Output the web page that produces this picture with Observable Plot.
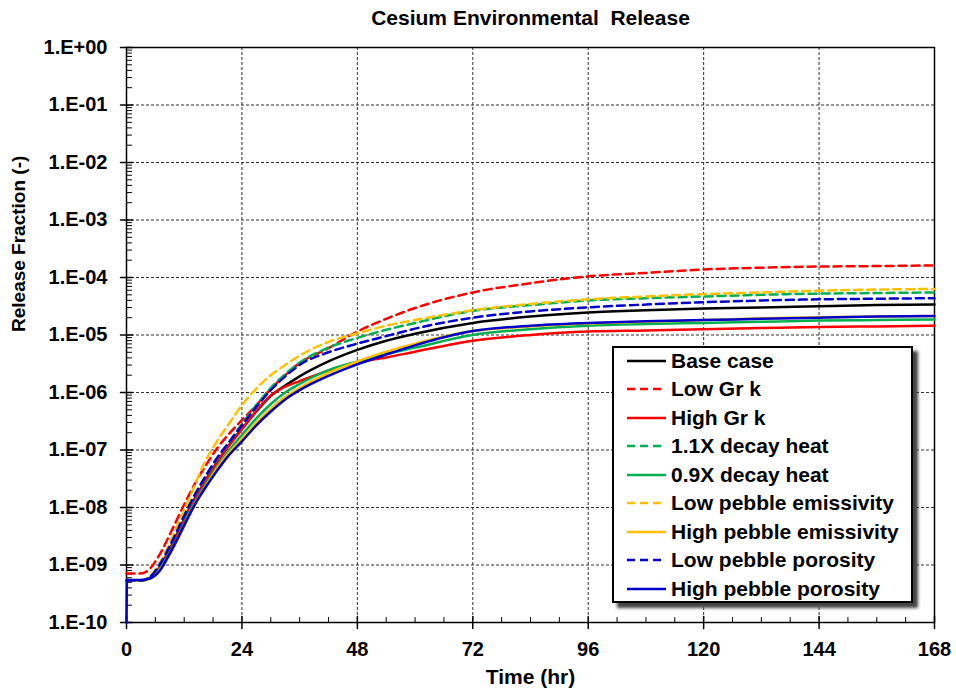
<!DOCTYPE html>
<html><head><meta charset="utf-8">
<script src="https://cdn.jsdelivr.net/npm/d3@7"></script>
<script src="https://cdn.jsdelivr.net/npm/@observablehq/plot@0.6"></script>
<style>
html,body{margin:0;padding:0;background:#fff;}
#wrap{position:relative;width:956px;height:692px;overflow:hidden;}
svg text{white-space:pre;}
#legend{position:absolute;left:612px;top:346px;width:297px;height:253px;border:2px solid #000;background:#fff;box-shadow:5px 5px 3px #444;font-family:"Liberation Sans",Arial,sans-serif;font-weight:bold;font-size:21px;color:#000;}
#legend .rows{margin-top:-1.5px;}
#legend .row{display:flex;align-items:center;height:28.5px;white-space:nowrap;}
#legend .row svg{margin-left:13px;margin-right:5px;flex:none;}
</style></head>
<body><div id="wrap"><div id="chart"></div><div id="legend"><div class="rows"></div></div></div>
<script>
// Time (hr)
const time = [0, 3, 5, 7, 9, 11, 13, 15, 17, 19, 21, 24, 27, 30, 33, 36, 42, 48, 54, 60, 72, 84, 96, 108, 120, 132, 144, 156, 168];
const timeHighPorosity = [0, 0.1, 3, 5, 7, 9, 11, 13, 15, 17, 19, 21, 24, 27, 30, 33, 36, 42, 48, 54, 60, 72, 84, 96, 108, 120, 132, 144, 156, 168];

// Release fraction (-)
const baseCase = [5.37e-10, 5.37e-10, 6.03e-10, 9.55e-10, 1.91e-9, 4.17e-9, 9.33e-9, 1.86e-8, 3.55e-8, 6.46e-8, 1.12e-7, 2.34e-7, 4.68e-7, 8.71e-7, 1.32e-6, 1.91e-6, 3.47e-6, 5.50e-6, 7.94e-6, 1.05e-5, 1.62e-5, 2.09e-5, 2.45e-5, 2.69e-5, 2.88e-5, 3.02e-5, 3.16e-5, 3.31e-5, 3.39e-5];
const lowGrK = [7.08e-10, 7.08e-10, 8.91e-10, 1.58e-9, 3.39e-9, 7.59e-9, 1.66e-8, 3.39e-8, 6.31e-8, 1.12e-7, 1.78e-7, 3.31e-7, 6.03e-7, 1.15e-6, 2.00e-6, 3.24e-6, 5.89e-6, 1.15e-5, 1.91e-5, 2.95e-5, 5.50e-5, 7.94e-5, 1.05e-4, 1.20e-4, 1.38e-4, 1.48e-4, 1.55e-4, 1.58e-4, 1.62e-4];
const highGrK = [5.37e-10, 5.37e-10, 6.03e-10, 9.33e-10, 1.82e-9, 3.98e-9, 8.91e-9, 1.82e-8, 3.47e-8, 6.46e-8, 1.10e-7, 2.29e-7, 4.79e-7, 8.91e-7, 1.26e-6, 1.58e-6, 2.40e-6, 3.31e-6, 4.07e-6, 5.13e-6, 7.94e-6, 1.00e-5, 1.15e-5, 1.20e-5, 1.26e-5, 1.32e-5, 1.38e-5, 1.41e-5, 1.45e-5];
const decayHeat11 = [5.37e-10, 5.37e-10, 6.31e-10, 1.05e-9, 2.14e-9, 4.79e-9, 1.07e-8, 2.19e-8, 4.17e-8, 7.59e-8, 1.26e-7, 2.82e-7, 6.03e-7, 1.20e-6, 2.09e-6, 3.31e-6, 6.03e-6, 8.91e-6, 1.23e-5, 1.62e-5, 2.63e-5, 3.31e-5, 3.98e-5, 4.37e-5, 4.68e-5, 5.01e-5, 5.25e-5, 5.37e-5, 5.50e-5];
const decayHeat09 = [5.37e-10, 5.37e-10, 5.89e-10, 8.71e-10, 1.62e-9, 3.47e-9, 7.94e-9, 1.58e-8, 3.02e-8, 5.37e-8, 9.12e-8, 1.82e-7, 3.55e-7, 6.31e-7, 1.00e-6, 1.41e-6, 2.45e-6, 3.47e-6, 4.68e-6, 6.03e-6, 1.00e-5, 1.26e-5, 1.45e-5, 1.55e-5, 1.62e-5, 1.70e-5, 1.78e-5, 1.82e-5, 1.86e-5];
const lowEmissivity = [5.37e-10, 5.37e-10, 6.61e-10, 1.12e-9, 2.40e-9, 6.03e-9, 1.41e-8, 3.55e-8, 7.94e-8, 1.51e-7, 2.63e-7, 6.03e-7, 1.17e-6, 2.00e-6, 3.02e-6, 4.37e-6, 7.59e-6, 1.07e-5, 1.45e-5, 1.82e-5, 2.69e-5, 3.47e-5, 4.17e-5, 4.68e-5, 5.13e-5, 5.50e-5, 5.89e-5, 6.17e-5, 6.31e-5];
const highEmissivity = [5.37e-10, 5.37e-10, 5.75e-10, 8.32e-10, 1.51e-9, 3.16e-9, 7.08e-9, 1.45e-8, 2.75e-8, 5.01e-8, 8.32e-8, 1.58e-7, 3.02e-7, 5.25e-7, 8.32e-7, 1.20e-6, 2.19e-6, 3.47e-6, 5.13e-6, 7.08e-6, 1.17e-5, 1.41e-5, 1.58e-5, 1.70e-5, 1.82e-5, 1.95e-5, 2.04e-5, 2.09e-5, 2.14e-5];
const lowPorosity = [5.37e-10, 5.37e-10, 6.31e-10, 1.05e-9, 2.14e-9, 4.79e-9, 1.07e-8, 2.19e-8, 4.17e-8, 7.59e-8, 1.26e-7, 2.69e-7, 5.62e-7, 1.10e-6, 1.91e-6, 3.02e-6, 5.01e-6, 7.08e-6, 9.55e-6, 1.29e-5, 2.00e-5, 2.57e-5, 3.02e-5, 3.39e-5, 3.72e-5, 3.98e-5, 4.17e-5, 4.27e-5, 4.37e-5];
const highPorosity = [1e-10, 5.50e-10, 5.50e-10, 5.89e-10, 8.13e-10, 1.58e-9, 3.31e-9, 7.24e-9, 1.45e-8, 2.63e-8, 4.57e-8, 7.59e-8, 1.41e-7, 2.69e-7, 4.68e-7, 7.59e-7, 1.10e-6, 1.95e-6, 3.09e-6, 4.57e-6, 6.61e-6, 1.17e-5, 1.45e-5, 1.62e-5, 1.74e-5, 1.82e-5, 1.91e-5, 2.00e-5, 2.09e-5, 2.14e-5];

// Series names and styles
const seriesNames = ["Base case", "Low Gr k", "High Gr k", "1.1X decay heat", "0.9X decay heat", "Low pebble emissivity", "High pebble emissivity", "Low pebble porosity", "High pebble porosity"];
const seriesColors = ["#000000", "#ff0000", "#ff0000", "#00b050", "#00b050", "#ffc000", "#ffc000", "#0000cc", "#0000cc"];
const seriesDashed = [false, true, false, true, false, true, false, true, false];
const seriesTimes = [time, time, time, time, time, time, time, time, timeHighPorosity];
const seriesValues = [baseCase, lowGrK, highGrK, decayHeat11, decayHeat09, lowEmissivity, highEmissivity, lowPorosity, highPorosity];

// Ticks
const xMajor = [0, 24, 48, 72, 96, 120, 144, 168];
const xMinor = [6, 12, 18, 30, 36, 42, 54, 60, 66, 78, 84, 90, 102, 108, 114, 126, 132, 138, 150, 156, 162];
const yMajor = [1e0, 1e-1, 1e-2, 1e-3, 1e-4, 1e-5, 1e-6, 1e-7, 1e-8, 1e-9, 1e-10];
const yLabels = ["1.E+00", "1.E-01", "1.E-02", "1.E-03", "1.E-04", "1.E-05", "1.E-06", "1.E-07", "1.E-08", "1.E-09", "1.E-10"];
const yMinor = [];
for (const m of yMajor.slice(1)) for (const k of [2,3,4,5,6,7,8,9]) yMinor.push(m * k);

const title = "Cesium Environmental  Release";
const xTitle = "Time (hr)";
const yTitle = "Release Fraction (-)";

const FONT = '"Liberation Sans", Arial, Helvetica, sans-serif';
const DASH = "8,5";

const rows = seriesNames.flatMap((name, s) => seriesTimes[s].map((t, i) => ({series: name, t, v: seriesValues[s][i]})));

const tickShape = {draw(ctx, l) { ctx.moveTo(0, 0); ctx.lineTo(0, -l); }};
const gridStyle = {stroke: "#333", strokeOpacity: 1, strokeWidth: 1, strokeDasharray: "3,2"};

const lineMarks = seriesNames.map((name, s) => Plot.line(rows.filter(r => r.series === name), {
  x: "t", y: "v", stroke: seriesColors[s], strokeWidth: 2.5,
  strokeDasharray: seriesDashed[s] ? DASH : "none", curve: "monotone-x"
}));

const chart = Plot.plot({
  width: 956, height: 692,
  marginLeft: 126, marginRight: 22, marginTop: 47, marginBottom: 70,
  style: {fontFamily: FONT, background: "white", overflow: "visible"},
  x: {domain: [0, 168], axis: null},
  y: {type: "log", domain: [1e-10, 1], axis: null},
  marks: [
    Plot.gridY(yMajor, gridStyle),
    Plot.gridX(xMajor, gridStyle),
    Plot.frame({stroke: "#000", strokeWidth: 1.5}),
    Plot.vector(yMinor, {y: d => d, frameAnchor: "left", length: 5, rotate: 90, anchor: "start", shape: tickShape, stroke: "#000", strokeWidth: 1}),
    Plot.vector(yMajor, {y: d => d, frameAnchor: "left", length: 12, rotate: 90, anchor: "middle", shape: tickShape, stroke: "#000", strokeWidth: 1.5}),
    Plot.vector(xMinor, {x: d => d, frameAnchor: "bottom", length: 5, rotate: 0, anchor: "start", shape: tickShape, stroke: "#000", strokeWidth: 1}),
    Plot.vector(xMajor, {x: d => d, frameAnchor: "bottom", length: 12, rotate: 0, anchor: "middle", shape: tickShape, stroke: "#000", strokeWidth: 1.5}),
    Plot.axisY(yMajor, {tickSize: 0, tickPadding: 19, tickFormat: d => yLabels[yMajor.indexOf(d)], fontSize: 20, fontWeight: "bold", label: null}),
    Plot.axisX(xMajor, {tickSize: 0, tickPadding: 19, tickFormat: d => String(d), fontSize: 20, fontWeight: "bold", label: null}),
    ...lineMarks,
    Plot.text([title], {frameAnchor: "top", lineAnchor: "middle", dy: -29, fontSize: 21, fontWeight: "bold", fill: "#000"}),
    Plot.text([xTitle], {frameAnchor: "bottom", lineAnchor: "middle", dy: 55, fontSize: 21, fontWeight: "bold", fill: "#000"}),
    Plot.text([yTitle], {frameAnchor: "left", lineAnchor: "middle", dx: -108, dy: -3, rotate: -90, fontSize: 19, fontWeight: "bold", fill: "#000"})
  ]
});
document.getElementById("chart").appendChild(chart);

// Legend
const legendRows = document.querySelector("#legend .rows");
seriesNames.forEach((name, s) => {
  const row = document.createElement("div");
  row.className = "row";
  row.innerHTML = `<svg width="39" height="6"><line x1="0" y1="3" x2="39" y2="3" stroke="${seriesColors[s]}" stroke-width="2.5" ${seriesDashed[s] ? `stroke-dasharray="${DASH}"` : ""}/></svg><span>${name}</span>`;
  legendRows.appendChild(row);
});
</script>
</body></html>
